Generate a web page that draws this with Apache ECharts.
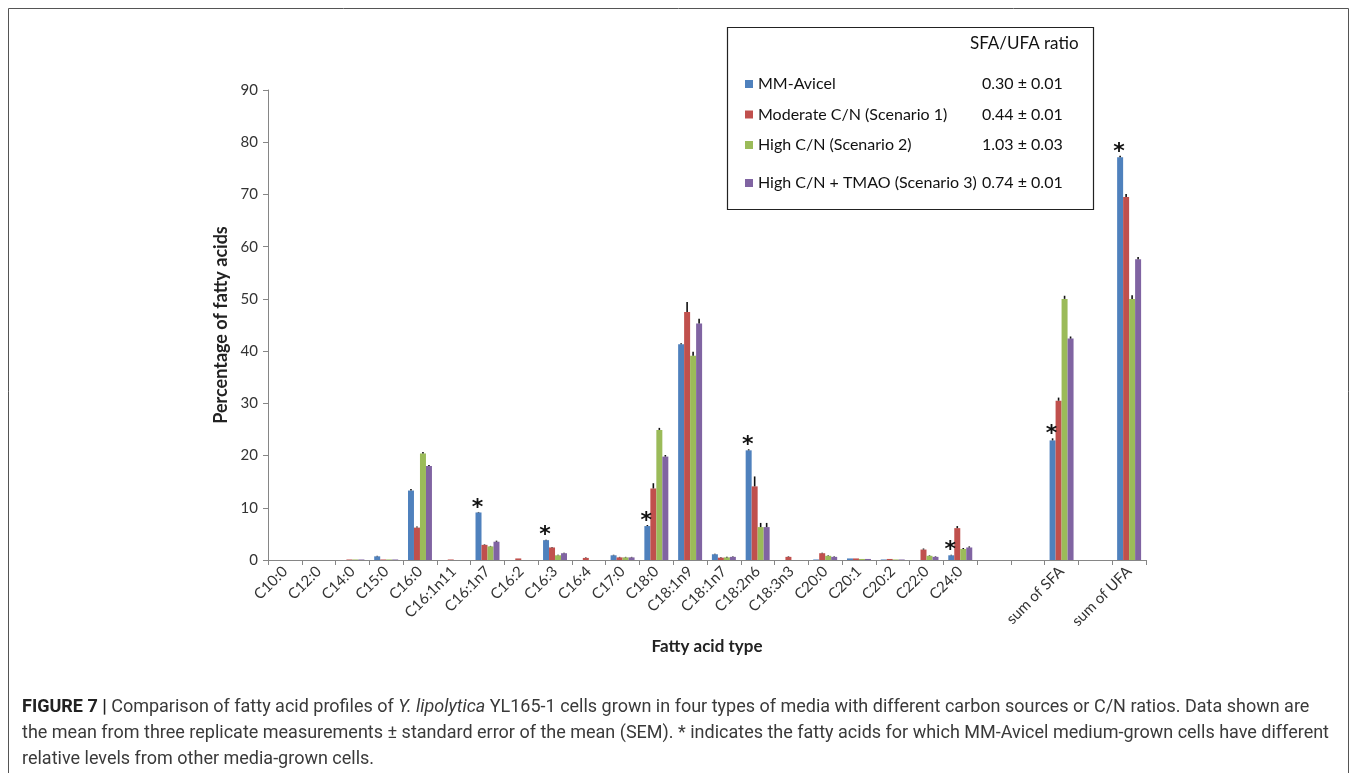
<!DOCTYPE html>
<html>
<head>
<meta charset="utf-8">
<script src="https://cdn.jsdelivr.net/npm/echarts@6/dist/echarts.min.js"></script>
<style>
  html, body { margin: 0; padding: 0; background: #fff; }
  #chart { width: 1357px; height: 773px; }
</style>
</head>
<body>
<div id="chart"></div>
<script>
// Fatty acid categories; blank slots keep the gap before the two sums
const categories = ['C10:0', 'C12:0', 'C14:0', 'C15:0', 'C16:0', 'C16:1n11', 'C16:1n7', 'C16:2', 'C16:3', 'C16:4',
  'C17:0', 'C18:0', 'C18:1n9', 'C18:1n7', 'C18:2n6', 'C18:3n3', 'C20:0', 'C20:1', 'C20:2', 'C22:0', 'C24:0',
  ' ', '  ', 'sum of SFA', '   ', 'sum of UFA'];

const seriesNames = ['MM-Avicel', 'Moderate C/N (Scenario 1)', 'High C/N (Scenario 2)', 'High C/N + TMAO (Scenario 3)'];
const ratios = ['0.30 ± 0.01', '0.44 ± 0.01', '1.03 ± 0.03', '0.74 ± 0.01'];
const colors = ['#4F81BD', '#C0504D', '#9BBB59', '#8064A2'];

// Mean percentage of each fatty acid
const mmAvicel = [0, 0, 0, 0.7, 13.3, 0, 9.1, 0, 3.8, 0, 0.9, 6.5, 41.3, 1.1, 21.0, 0, 0.1, 0.3, 0.1, 0, 0.9, null, null, 22.9, null, 77.1];
const moderateCN = [0, 0, 0.1, 0.1, 6.2, 0.1, 2.9, 0.3, 2.4, 0.4, 0.5, 13.7, 47.5, 0.45, 14.1, 0.6, 1.3, 0.3, 0.2, 2.0, 6.1, null, null, 30.5, null, 69.5];
const highCN = [0, 0, 0.1, 0.1, 20.4, 0, 2.6, 0, 0.9, 0, 0.5, 24.9, 39.1, 0.5, 6.3, 0, 0.8, 0.2, 0.1, 0.8, 2.1, null, null, 50.0, null, 50.0];
const highCNTmao = [0, 0, 0.1, 0.1, 18.0, 0, 3.5, 0, 1.3, 0, 0.5, 19.8, 45.3, 0.6, 6.3, 0, 0.6, 0.2, 0.1, 0.6, 2.4, null, null, 42.4, null, 57.6];

// Standard error of the mean
const semMmAvicel = [0, 0, 0, 0.1, 0.3, 0, 0.1, 0, 0.1, 0, 0.1, 0.2, 0.2, 0.1, 0.2, 0, 0, 0, 0, 0, 0.1, null, null, 0.4, null, 0.3];
const semModerateCN = [0, 0, 0, 0, 0.2, 0, 0.1, 0, 0.1, 0.1, 0.1, 1.0, 1.9, 0.1, 1.9, 0.1, 0.1, 0, 0, 0.2, 0.4, null, null, 0.6, null, 0.6];
const semHighCN = [0, 0, 0, 0, 0.3, 0, 0.1, 0, 0.1, 0, 0.1, 0.4, 0.8, 0.1, 0.8, 0, 0.1, 0, 0, 0.1, 0.2, null, null, 0.6, null, 0.7];
const semHighCNTmao = [0, 0, 0, 0, 0.2, 0, 0.2, 0, 0.1, 0, 0.1, 0.3, 0.9, 0.1, 0.8, 0, 0.1, 0, 0, 0.1, 0.2, null, null, 0.4, null, 0.4];

// Fatty acids where MM-Avicel differs from the other media
const flagged = ['C16:1n7', 'C16:3', 'C18:0', 'C18:2n6', 'C24:0', 'sum of SFA', 'sum of UFA'];

const yTicks = { min: 0, max: 90, interval: 10 };

const means = [mmAvicel, moderateCN, highCN, highCNTmao];
const sems = [semMmAvicel, semModerateCN, semHighCN, semHighCNTmao];
const GAP = 0.29;
const FONT = 'Lato, "Open Sans", sans-serif';
const CAPTION_FONT = '"Roboto", "Liberation Sans", sans-serif';

// error-bar records: [category index, mean, sem, series index, flagged]
const errData = [];
means.forEach((arr, s) => {
  arr.forEach((v, i) => {
    if (v === null) return;
    errData.push([i, v, sems[s][i], s, (s === 0 && flagged.includes(categories[i])) ? 1 : 0]);
  });
});

const legendText = {
  fontFamily: FONT,
  fontSize: 16,
  color: '#111',
  rich: {
    n: { width: 224, fontFamily: FONT, fontSize: 16, color: '#111', lineHeight: 18 },
    v: { fontFamily: FONT, fontSize: 16, color: '#111', lineHeight: 18 }
  }
};
const legendFormatter = name => '{n|' + name + '}{v|' + ratios[seriesNames.indexOf(name)] + '}';
const legendBase = {
  orient: 'vertical',
  left: 740,
  itemWidth: 8,
  itemHeight: 8,
  itemGap: 14.5,
  icon: 'rect',
  selectedMode: false,
  formatter: legendFormatter,
  textStyle: legendText
};

const chart = echarts.init(document.getElementById('chart'));

const option = {
  backgroundColor: '#fff',
  animation: false,
  grid: { left: 268, right: 211, top: 90, bottom: 213, containLabel: false },
  legend: [
    Object.assign({ data: seriesNames.slice(0, 3), top: 71 }, legendBase),
    Object.assign({ data: seriesNames.slice(3), top: 170 }, legendBase)
  ],
  xAxis: {
    type: 'category',
    data: categories,
    name: 'Fatty acid type',
    nameLocation: 'middle',
    nameGap: 78,
    nameTextStyle: { fontFamily: FONT, fontSize: 17, fontWeight: 'bold', color: '#222' },
    axisLine: { lineStyle: { color: '#868686', width: 1 } },
    axisTick: { show: true, interval: 0, length: 5, lineStyle: { color: '#868686' } },
    axisLabel: { interval: 0, rotate: 45, margin: 9, fontFamily: FONT, fontSize: 15, color: '#333' },
    splitLine: { show: false }
  },
  yAxis: {
    type: 'value',
    min: yTicks.min,
    max: yTicks.max,
    interval: yTicks.interval,
    name: 'Percentage of fatty acids',
    nameLocation: 'middle',
    nameGap: 37,
    nameTextStyle: { fontFamily: FONT, fontSize: 18, fontWeight: 'bold', color: '#222' },
    axisLine: { show: true, lineStyle: { color: '#868686', width: 1 } },
    axisTick: { show: true, length: 5, lineStyle: { color: '#868686' } },
    axisLabel: { margin: 10, fontFamily: FONT, fontSize: 15, color: '#333' },
    splitLine: { show: false }
  },
  series: means.map((arr, s) => ({
    name: seriesNames[s],
    type: 'bar',
    data: arr,
    barGap: '0%',
    barCategoryGap: (GAP * 100) + '%',
    itemStyle: { color: colors[s] }
  })).concat([{
    type: 'custom',
    name: 'SEM',
    data: errData,
    encode: { x: 0, y: 1 },
    z: 5,
    renderItem: (params, api) => {
      const cat = api.value(0), val = api.value(1), err = api.value(2), s = api.value(3), star = api.value(4);
      const band = api.size([1, 0])[0];
      const group = band * (1 - GAP);
      const bw = group / 4;
      const cx = api.coord([cat, 0])[0] - group / 2 + (s + 0.5) * bw;
      const yTop = api.coord([cat, val + err])[1];
      const yVal = api.coord([cat, val])[1];
      const children = [];
      if (err > 0) {
        children.push({
          type: 'line',
          shape: { x1: cx, y1: yVal, x2: cx, y2: yTop },
          style: { stroke: '#111', lineWidth: 1.6 }
        });
      }
      if (star) {
        children.push({
          type: 'text',
          style: {
            text: '*', x: cx - 1, y: yTop + 7, align: 'center', verticalAlign: 'bottom',
            font: 'bold 22px "DejaVu Sans", sans-serif', fill: '#111'
          }
        });
      }
      return { type: 'group', children };
    }
  }]),
  graphic: [
    // figure frame
    { type: 'rect', shape: { x: 8.5, y: 8.5, width: 1340, height: 820 }, style: { fill: 'none', stroke: '#555', lineWidth: 1 }, z: -1 },
    // legend box
    { type: 'rect', shape: { x: 727.5, y: 27.5, width: 366, height: 182 }, style: { fill: '#fff', stroke: '#222', lineWidth: 1.2 }, z: -1 },
    { type: 'text', left: 970, top: 35, style: { text: 'SFA/UFA ratio', font: '17px ' + FONT, fill: '#111' } },
    // caption
    {
      type: 'text', left: 22, top: 694,
      style: {
        text: '{b|FIGURE 7 |} Comparison of fatty acid profiles of {i|Y. lipolytica} YL165-1 cells grown in four types of media with different carbon sources or C/N ratios. Data shown are\n' +
              'the mean from three replicate measurements ± standard error of the mean (SEM). * indicates the fatty acids for which MM-Avicel medium-grown cells have different\n' +
              'relative levels from other media-grown cells.',
        font: '18px ' + CAPTION_FONT,
        fill: '#3a3a3a',
        lineHeight: 26,
        rich: {
          b: { font: 'bold 18px ' + CAPTION_FONT, fill: '#222', lineHeight: 26 },
          i: { font: 'italic 18px ' + CAPTION_FONT, fill: '#3a3a3a', lineHeight: 26 }
        }
      }
    }
  ]
};

chart.setOption(option);
</script>
</body>
</html>
